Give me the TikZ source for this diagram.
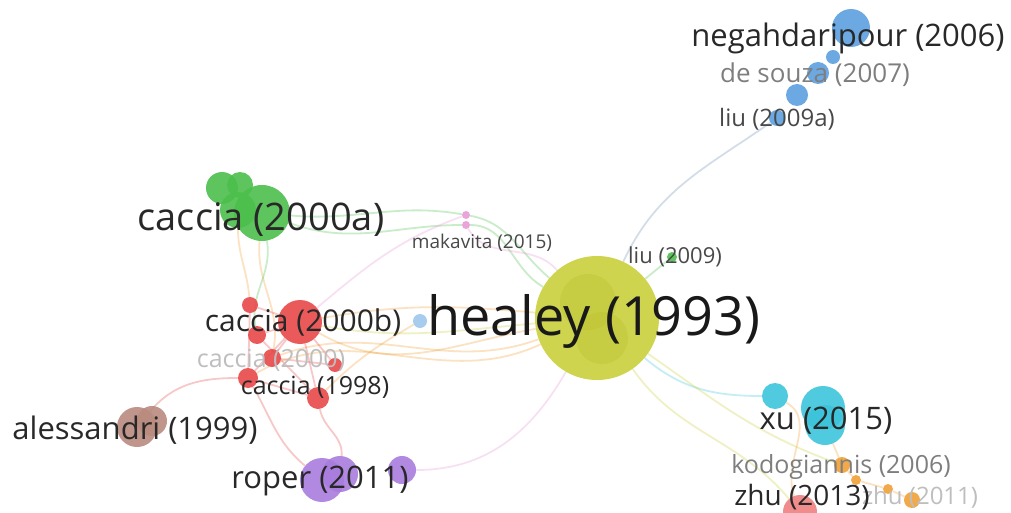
\documentclass[tikz,border=0pt]{standalone}
\usepackage{fontspec}
\setmainfont{Open Sans}
\usetikzlibrary{backgrounds}

\definecolor{yel}{RGB}{201,207,58}
\definecolor{yeldark}{RGB}{184,190,40}
\definecolor{grn}{RGB}{76,191,76}
\definecolor{rd}{RGB}{232,72,72}
\definecolor{blu}{RGB}{92,160,224}
\definecolor{brn}{RGB}{185,138,126}
\definecolor{prp}{RGB}{168,124,221}
\definecolor{cyn}{RGB}{60,196,218}
\definecolor{org}{RGB}{240,160,53}
\definecolor{pnk}{RGB}{231,154,214}
\definecolor{txt}{RGB}{40,40,40}

\tikzset{
  bubble/.style={circle, inner sep=0pt, fill=#1, fill opacity=0.9},
  lbl/.style={text=txt, inner sep=0pt, font=\fontsize{#1}{#1}\selectfont},
  edge/.style={line width=1.8pt, draw=#1, draw opacity=0.3},
}

\begin{document}
\begin{tikzpicture}[x=1pt,y=-1pt]
        \useasboundingbox (0,0) rectangle (1011,513);

        % healey
        \node [bubble=yel, minimum size=124] (hea) at (597,318) {};
        \node [bubble=yeldark, minimum size=56, fill opacity=0.3] (hea1) at (588,302) {};
        \node [bubble=yeldark, minimum size=52, fill opacity=0.3] (hea2) at (602,338) {};

        % blue cluster
        \node [bubble=blu, minimum size=38] (neg) at (851,28) {};
        \node [bubble=blu, minimum size=14] (neg1) at (833,57) {};
        \node [bubble=blu, minimum size=22] (sou) at (818,73) {};
        \node [bubble=blu, minimum size=22] (sou1) at (797,95) {};
        \node [bubble=blu, minimum size=16] (liua) at (777,118) {};

        % green cluster
        \node [bubble=grn, minimum size=32] (caa1) at (222,188) {};
        \node [bubble=grn, minimum size=26] (caa2) at (240,185) {};
        \node [bubble=grn, minimum size=36] (caa3) at (238,210) {};
        \node [bubble=grn, minimum size=56] (caa) at (262,213) {};

        % red cluster
        \node [bubble=rd, minimum size=44] (cab) at (300,322) {};
        \node [bubble=rd, minimum size=16] (r1) at (250,305) {};
        \node [bubble=rd, minimum size=18] (r2) at (257,335) {};
        \node [bubble=rd, minimum size=18] (r3) at (272,358) {};
        \node [bubble=rd, minimum size=20] (r4) at (248,378) {};
        \node [bubble=rd, minimum size=22] (r5) at (318,398) {};
        \node [bubble=rd, minimum size=14] (r6) at (335,365) {};

        % small ones
        \node [bubble=pnk, minimum size=8] (mak1) at (466,215) {};
        \node [bubble=pnk, minimum size=8] (mak2) at (466,225) {};
        \node [bubble=blu!60, minimum size=14] (bl) at (420,321) {};
        \node [bubble=grn, minimum size=10] (liu) at (672,257) {};

        % alessandri
        \node [bubble=brn, minimum size=30] (ale1) at (152,421) {};
        \node [bubble=brn, minimum size=40] (ale) at (137,427) {};

        % roper
        \node [bubble=prp, minimum size=44] (rop) at (322,480) {};
        \node [bubble=prp, minimum size=36] (rop1) at (340,474) {};
        \node [bubble=prp, minimum size=28] (rop2) at (402,470) {};

        % xu
        \node [bubble=cyn, minimum size=26] (xu1) at (775,396) {};
        \node [bubble=cyn, minimum size=44] (xu) at (823,408) {};
        \node [bubble=cyn, minimum size=40] (xu2) at (825,425) {};

        % kodogiannis, zhu
        \node [bubble=org, minimum size=16] (kod) at (842,465) {};
        \node [bubble=org, minimum size=10] (o1) at (856,480) {};
        \node [bubble=org, minimum size=10] (o2) at (888,489) {};
        \node [bubble=org, minimum size=16] (o3) at (912,500) {};
        \node [bubble=rd!70, minimum size=34] (zhu) at (800,512) {};

        % links
        \begin{scope}[on background layer]
        \draw [edge=blu!50!gray] (hea) to [out=65,in=215] (liua);
        \draw [edge=grn] (caa) to [out=-5,in=170] (mak1);
        \draw [edge=grn] (mak1) to [out=-10,in=140] (hea);
        \draw [edge=grn] (caa) to [out=-20,in=180] (mak2);
        \draw [edge=grn] (mak2) to [out=0,in=150] (hea);
        \draw [edge=pnk] (mak2) to [out=-60,in=130] (hea);
        \draw [edge=pnk] (mak1) to [out=200,in=40] (cab);
        \draw [edge=org] (caa3) to [out=-90,in=95] (r1);
        \draw [edge=org] (caa) to [out=-95,in=80] (r3);
        \draw [edge=grn] (caa) to [out=-80,in=100] (r2);
        \draw [edge=org] (cab) to [out=10,in=175] (hea);
        \draw [edge=org] (cab) to [out=-30,in=190] (hea);
        \draw [edge=org] (r3) to [out=20,in=200] (hea);
        \draw [edge=org] (r4) to [out=30,in=205] (hea);
        \draw [edge=org] (r5) to [out=45,in=210] (bl);
        \draw [edge=rd] (cab) -- (r1);
        \draw [edge=rd] (cab) -- (r2);
        \draw [edge=rd] (cab) -- (r3);
        \draw [edge=rd] (cab) -- (r4);
        \draw [edge=rd] (cab) -- (r5);
        \draw [edge=rd] (cab) -- (r6);
        \draw [edge=rd] (r1) -- (r4);
        \draw [edge=rd] (r2) -- (r5);
        \draw [edge=rd] (r3) -- (r6);
        \draw [edge=rd] (r4) -- (r5);
        \draw [edge=rd] (ale) to [out=50,in=180] (r4);
        \draw [edge=rd] (r4) to [out=-60,in=140] (rop);
        \draw [edge=rd] (r5) to [out=-80,in=85] (rop1);
        \draw [edge=pnk] (rop2) to [out=0,in=-120] (hea);
        \draw [edge=yel] (cab) to [out=-10,in=185] (hea);
        \draw [edge=cyn] (hea) to [out=-40,in=180] (xu1);
        \draw [edge=yel] (hea) to [out=-35,in=160] (kod);
        \draw [edge=yel] (hea) to [out=-55,in=130] (zhu);
        \draw [edge=org] (xu1) to [out=-30,in=110] (zhu);
        \draw [edge=org] (xu2) -- (kod);
        \draw [edge=org] (kod) -- (o1) -- (o2) -- (o3);
        \draw [edge=grn] (hea) -- (liu);
        \end{scope}

        % labels
        \node [lbl=31] (neglbl) at (848,38) {negahdaripour (2006)};
        \node [lbl=26, text=txt!60] (soulbl) at (815,75) {de souza (2007)};
        \node [lbl=24, text=txt!85] (liualbl) at (777,119) {liu (2009a)};
        \node [lbl=38] (caalbl) at (261,220) {caccia (2000a)};
        \node [lbl=19, text=txt!85] (maklbl) at (482,243) {makavita (2015)};
        \node [lbl=22, text=txt!85] (liulbl) at (675,257) {liu (2009)};
        \node [lbl=54, text=black!90] (healbl) at (594,321) {healey (1993)};
        \node [lbl=30] (cablbl) at (303,322) {caccia (2000b)};
        \node [lbl=25, text=txt!30] (cacclbl) at (271,360) {caccia (2000)};
        \node [lbl=25] (c98lbl) at (315,387) {caccia (1998)};
        \node [lbl=31] (alelbl) at (135,430) {alessandri (1999)};
        \node [lbl=31] (roplbl) at (320,481) {roper (2011)};
        \node [lbl=31] (xulbl) at (826,421) {xu (2015)};
        \node [lbl=25, text=txt!60] (kodlbl) at (841,467) {kodogiannis (2006)};
        \node [lbl=24, text=txt!30] (z11lbl) at (920,497) {zhu (2011)};
        \node [lbl=28] (zhulbl) at (802,497) {zhu (2013)};

\end{tikzpicture}
\end{document}
